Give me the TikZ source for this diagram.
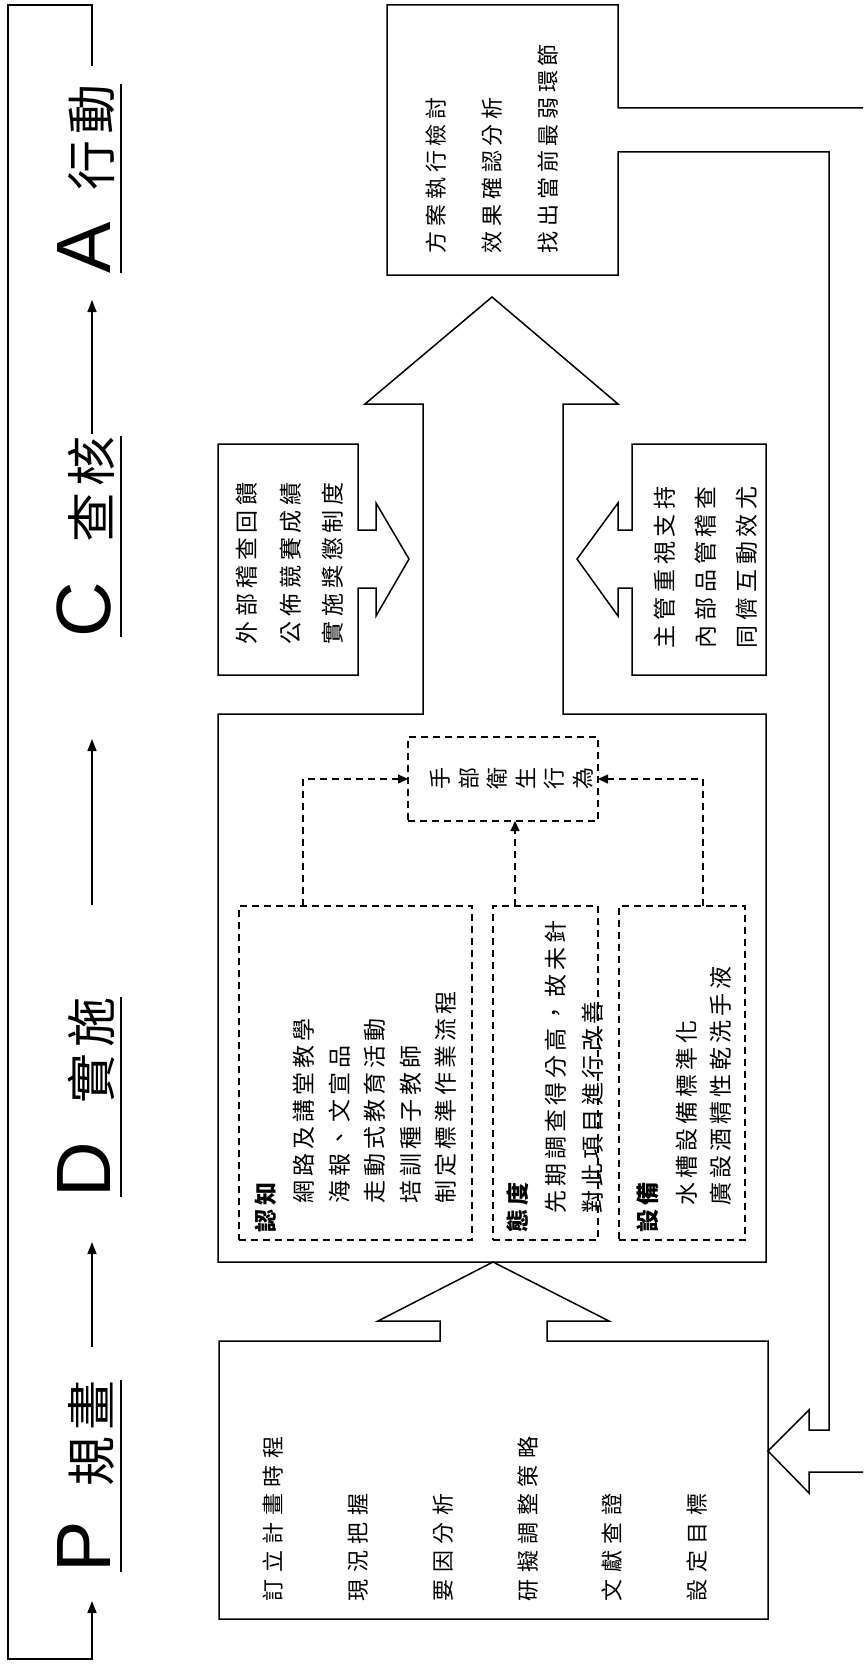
\documentclass[tikz,border=0pt]{standalone}
\usepackage{fontspec}
\setmainfont{Liberation Sans}
\newfontfamily\cjk{Noto Sans CJK TC}
\usetikzlibrary{arrows.meta}
\makeatletter
\def\spc#1{\spc@i#1\relax}
\def\spc@i#1{\ifx\relax#1\else#1\hspace{\cgap}\expandafter\spc@i\fi}
\makeatother
\def\cgap{0pt}
\tikzset{
  ln/.style={line width=1.5pt, line join=miter, miter limit=20},
  dln/.style={line width=1.3pt, dash pattern=on 7pt off 5pt},
  arr/.style={line width=1.5pt, -{Triangle[length=12pt,width=9pt]}},
  darr/.style={dln, -{Triangle[length=10pt,width=9pt]}},
  uline/.style={line width=2.6pt},
  txt/.style={rotate=90, anchor=base west, inner sep=0pt, outer sep=0pt},
  ta/.style={txt, font=\cjk\fontsize{22}{22}\selectfont\def\cgap{4.7pt}},
  tp/.style={txt, font=\cjk\fontsize{22}{22}\selectfont\def\cgap{6.5pt}},
  td/.style={txt, font=\cjk\fontsize{23}{23}\selectfont\def\cgap{4pt}},
  tdh/.style={txt, font=\cjk\bfseries\fontsize{23}{23}\selectfont\def\cgap{4pt}},
  tc/.style={txt, font=\cjk\fontsize{23}{23}\selectfont\def\cgap{4.7pt}},
  th/.style={rotate=90, inner sep=0pt, outer sep=0pt, font=\cjk\fontsize{22}{22}\selectfont},
  tlet/.style={rotate=90, anchor=base west, inner sep=0pt, outer sep=0pt, font=\fontsize{77}{77}\selectfont},
  tchn/.style={rotate=90, anchor=base east, inner sep=0pt, outer sep=0pt, font=\cjk\fontsize{50}{50}\selectfont},
  dbox/.style={dln, draw, anchor=north west, inner sep=0pt, outer sep=0pt},
}
\begin{document}
\begin{tikzpicture}[x=1pt,y=-1pt]
\fill[white] (0,0) rectangle (863,1664);
\useasboundingbox (0,0) rectangle (863,1664);

% outer feedback frame
\draw[arr] (92,66) coordinate (fs) -- (92,5) -- (8,5) -- (8,1659) -- (92,1659) -- (92,1601) coordinate (fe);

% arrows between phase titles
\draw[arr] (92,1347) coordinate (pd1) -- (92,1242) coordinate (pd2);
\draw[arr] (92,905) coordinate (dc1) -- (92,739) coordinate (dc2);
\draw[arr] (92,434) coordinate (ca1) -- (92,300) coordinate (ca2);

% phase titles
\node[tlet] (tP) at (110,1572) {P};
\node[tchn] (tPc) at (110,1380) {規\hspace{6pt}畫};
\draw[uline] (121,1380) -- (121,1572);
\node[tlet] (tD) at (110,1197) {D};
\node[tchn] (tDc) at (110,997) {實\hspace{6pt}施};
\draw[uline] (121,997) -- (121,1197);
\node[tlet] (tC) at (110,637) {C};
\node[tchn] (tCc) at (110,436) {查\hspace{6pt}核};
\draw[uline] (121,436) -- (121,637);
\node[tlet] (tA) at (110,273) {A};
\node[tchn] (tAc) at (110,84) {行\hspace{6pt}動};
\draw[uline] (121,84) -- (121,273);

% P box with block arrow up to D box
\draw[ln] (440,1341) -- (219,1341) -- (219,1619) -- (768,1619) -- (768,1341) -- (547,1341)
  -- (547,1321) -- (609,1321) -- (493,1262) -- (378,1321) -- (440,1321) -- cycle;
% D box with block arrow up to A box
\draw[ln] (423,714) -- (218,714) -- (218,1262) -- (766,1262) -- (766,714) -- (563,714)
  -- (563,404) -- (618,404) -- (492,297) -- (365,404) -- (423,404) -- cycle;
% A box with feedback block arrow to P box
\draw[ln] (863,108) -- (618,108) -- (618,5) -- (387,5) -- (387,275) -- (618,275) -- (618,152)
  -- (829,152) -- (829,1430) -- (809,1430) -- (809,1410) -- (768,1451) -- (809,1493)
  -- (809,1472) -- (863,1472);
% C callouts
\draw[ln] (358,530) -- (358,444) -- (218,444) -- (218,675) -- (358,675) -- (358,588)
  -- (376,588) -- (376,616) -- (409,559) -- (376,503) -- (376,530) -- cycle;
\draw[ln] (632,530) -- (632,444) -- (766,444) -- (766,675) -- (632,675) -- (632,588)
  -- (618,588) -- (618,616) -- (577,559) -- (618,503) -- (618,530) -- cycle;

% dashed boxes
\node[dbox, minimum width=233pt, minimum height=334pt] (b1) at (239,906) {};
\node[dbox, minimum width=105pt, minimum height=334pt] (b2) at (493,906) {};
\node[dbox, minimum width=126pt, minimum height=334pt] (b3) at (619,906) {};
\node[dbox, minimum width=190pt, minimum height=84pt] (h) at (408,737) {};

\draw[darr] ([xshift=64pt]b1.north west) |- (h.west);
\draw[darr] (b2.north west) ++(22,0) coordinate (t2) -- (t2 |- h.south);
\draw[darr] ([xshift=84pt]b3.north west) |- (h.east);

\foreach \c [count=\i] in {手,部,衛,生,行,為}
  \node[th] (hc\i) at ({440+28.6*(\i-1)},778) {\c};

% A box text
\node[ta] (a1) at (444,253) {\spc{方案執行檢討}};
\node[ta] (a2) at (500,253) {\spc{效果確認分析}};
\node[ta] (a3) at (556,253) {\spc{找出當前最弱環節}};

% P box text
\node[tp] (p1) at (281,1601) {\spc{訂立計畫時程}};
\node[tp] (p2) at (366,1601) {\spc{現況把握}};
\node[tp] (p3) at (451,1601) {\spc{要因分析}};
\node[tp] (p4) at (536,1601) {\spc{研擬調整策略}};
\node[tp] (p5) at (620,1601) {\spc{文獻查證}};
\node[tp] (p6) at (705,1601) {\spc{設定目標}};

% D box text
\node[tdh] (k0) at (274,1232) {\spc{認知}};
\node[td] (k1) at (312,1203) {\spc{網路及講堂教學}};
\node[td] (k2) at (348,1203) {\spc{海報、文宣品}};
\node[td] (k3) at (383,1203) {\spc{走動式教育活動}};
\node[td] (k4) at (419,1203) {\spc{培訓種子教師}};
\node[td] (k5) at (454,1203) {\spc{制定標準作業流程}};
\node[tdh] (m0) at (526,1232) {\spc{態度}};
\node[td] (m1) at (564,1213) {\spc{先期調查得分高，故未針}};
\node[td] (m2) at (601,1213) {\spc{對此項目進行改善}};
\node[tdh] (e0) at (656,1232) {\spc{設備}};
\node[td] (e1) at (695,1205) {\spc{水槽設備標準化}};
\node[td] (e2) at (729,1205) {\spc{廣設酒精性乾洗手液}};

% C callout text
\node[tc] (c1) at (255,644) {\spc{外部稽查回饋}};
\node[tc] (c2) at (299,644) {\spc{公佈競賽成績}};
\node[tc] (c3) at (341,644) {\spc{實施獎懲制度}};
\node[tc] (c4) at (673,648) {\spc{主管重視支持}};
\node[tc] (c5) at (714,648) {\spc{內部品管稽查}};
\node[tc] (c6) at (755,648) {\spc{同儕互動效尤}};
\end{tikzpicture}
\end{document}
